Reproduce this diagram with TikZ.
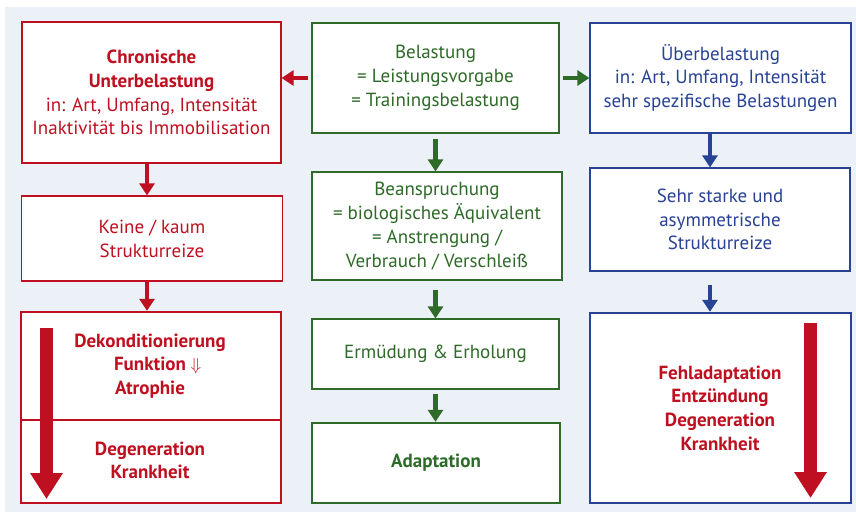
\documentclass[tikz,border=0pt]{standalone}
\usepackage{fontspec}
\setmainfont{PT Sans}
\usetikzlibrary{arrows.meta}
\definecolor{cred}{RGB}{190,16,32}
\definecolor{cgreen}{RGB}{46,106,40}
\definecolor{cblue}{RGB}{40,66,148}
\definecolor{cbg}{RGB}{236,241,248}
\tikzset{
  box/.style={draw, fill=white, line width=1.2pt, align=center, inner sep=0pt,
    font=\fontsize{19}{23.8}\selectfont},
  thick box/.style={box, line width=2.4pt},
  redbox/.style={draw=cred, text=cred},
  greenbox/.style={draw=cgreen, text=cgreen},
  bluebox/.style={draw=cblue, text=cblue},
  txt/.style={align=center, inner sep=0pt, text=cred, font=\fontsize{19}{23.6}\selectfont\bfseries},
  conn/.style={line width=4.5pt, -{Triangle[width=15pt,length=12pt]}},
  big arrow/.style={line width=13pt, -{Triangle[width=31pt,length=26pt]}, cred},
}
\begin{document}
\begin{tikzpicture}[x=1pt,y=-1pt]
\useasboundingbox (0,0) rectangle (856,515);
\fill[cbg] (5,7) rectangle (856,512);
% left column
\node[box, redbox, minimum width=259pt, minimum height=141pt] (L1) at (151.5,92.5)
  {\textbf{Chronische}\\\textbf{Unterbelastung}\\in: Art, Umfang, Intensität\\Inaktivität bis Immobilisation};
\node[box, redbox, minimum width=261pt, minimum height=85pt] (L2) at (152,238.5)
  {Keine / kaum\\Strukturreize};
\node[thick box, redbox, minimum width=260pt, minimum height=108pt] (L3a) at (151,366) {};
\node[thick box, redbox, minimum width=260pt, minimum height=83pt] (L3b) at (151,461.5) {};
\node[txt] (L3at) at (150,366) {Dekonditionierung\\Funktion\rlap{ {\normalfont$\Downarrow$}}\\Atrophie};
\node[txt] (L3bt) at (150,460.5) {Degeneration\\Krankheit};
\draw[big arrow] (46.5,328) -- (46.5,499);
% middle column
\node[box, greenbox, minimum width=247pt, minimum height=110pt] (M1) at (435.5,78)
  {Belastung\\= Leistungsvorgabe\\= Trainingsbelastung};
\node[box, greenbox, minimum width=250pt, minimum height=108pt] (M2) at (437,226)
  {Beanspruchung\\= biologisches Äquivalent\\= Anstrengung /\\Verbrauch / Verschleiß};
\node[box, greenbox, minimum width=247pt, minimum height=70pt] (M3) at (435.5,354)
  {Ermüdung {\&} Erholung};
\node[thick box, greenbox, minimum width=248pt, minimum height=80pt] (M4) at (436,463)
  {\textbf{Adaptation}};
% right column
\node[box, bluebox, minimum width=261pt, minimum height=110pt] (R1) at (720.5,78)
  {Überbelastung\\in: Art, Umfang, Intensität\\sehr spezifische Belastungen};
\node[box, bluebox, minimum width=260pt, minimum height=103pt] (R2) at (720,219.5)
  {Sehr starke und\\asymmetrische\\Strukturreize};
\node[thick box, bluebox, minimum width=261pt, minimum height=190pt] (R3) at (720.5,408) {};
\node[txt] (R3t) at (720,408) {Fehladaptation\\Entzündung\\Degeneration\\Krankheit};
\draw[big arrow] (810.5,323) -- (810.5,498);
% connectors
\draw[conn, cred] ([xshift=-3pt]M1.west) -- (L1.east |- M1.west);
\draw[conn, cgreen] ([xshift=3pt]M1.east) -- (R1.west |- M1.east);
\draw[conn, cred] (L1.south -| 147,0) -- (L2.north -| 147,0);
\draw[conn, cred] (L2.south -| 147,0) -- (L3a.north -| 147,0);
\draw[conn, cgreen] ([yshift=-5pt]M1.south) -- (M2.north -| M1.south);
\draw[conn, cgreen] ([yshift=-9pt]M2.south -| M1.south) -- (M3.north);
\draw[conn, cgreen] ([yshift=-4pt]M3.south) -- (M4.north -| M3.south);
\draw[conn, cblue] (R1.south -| 710,0) -- (R2.north -| 710,0);
\draw[conn, cblue] ([yshift=-13pt]R2.south -| 710,0) -- (R3.north -| 710,0);
\end{tikzpicture}
\end{document}
